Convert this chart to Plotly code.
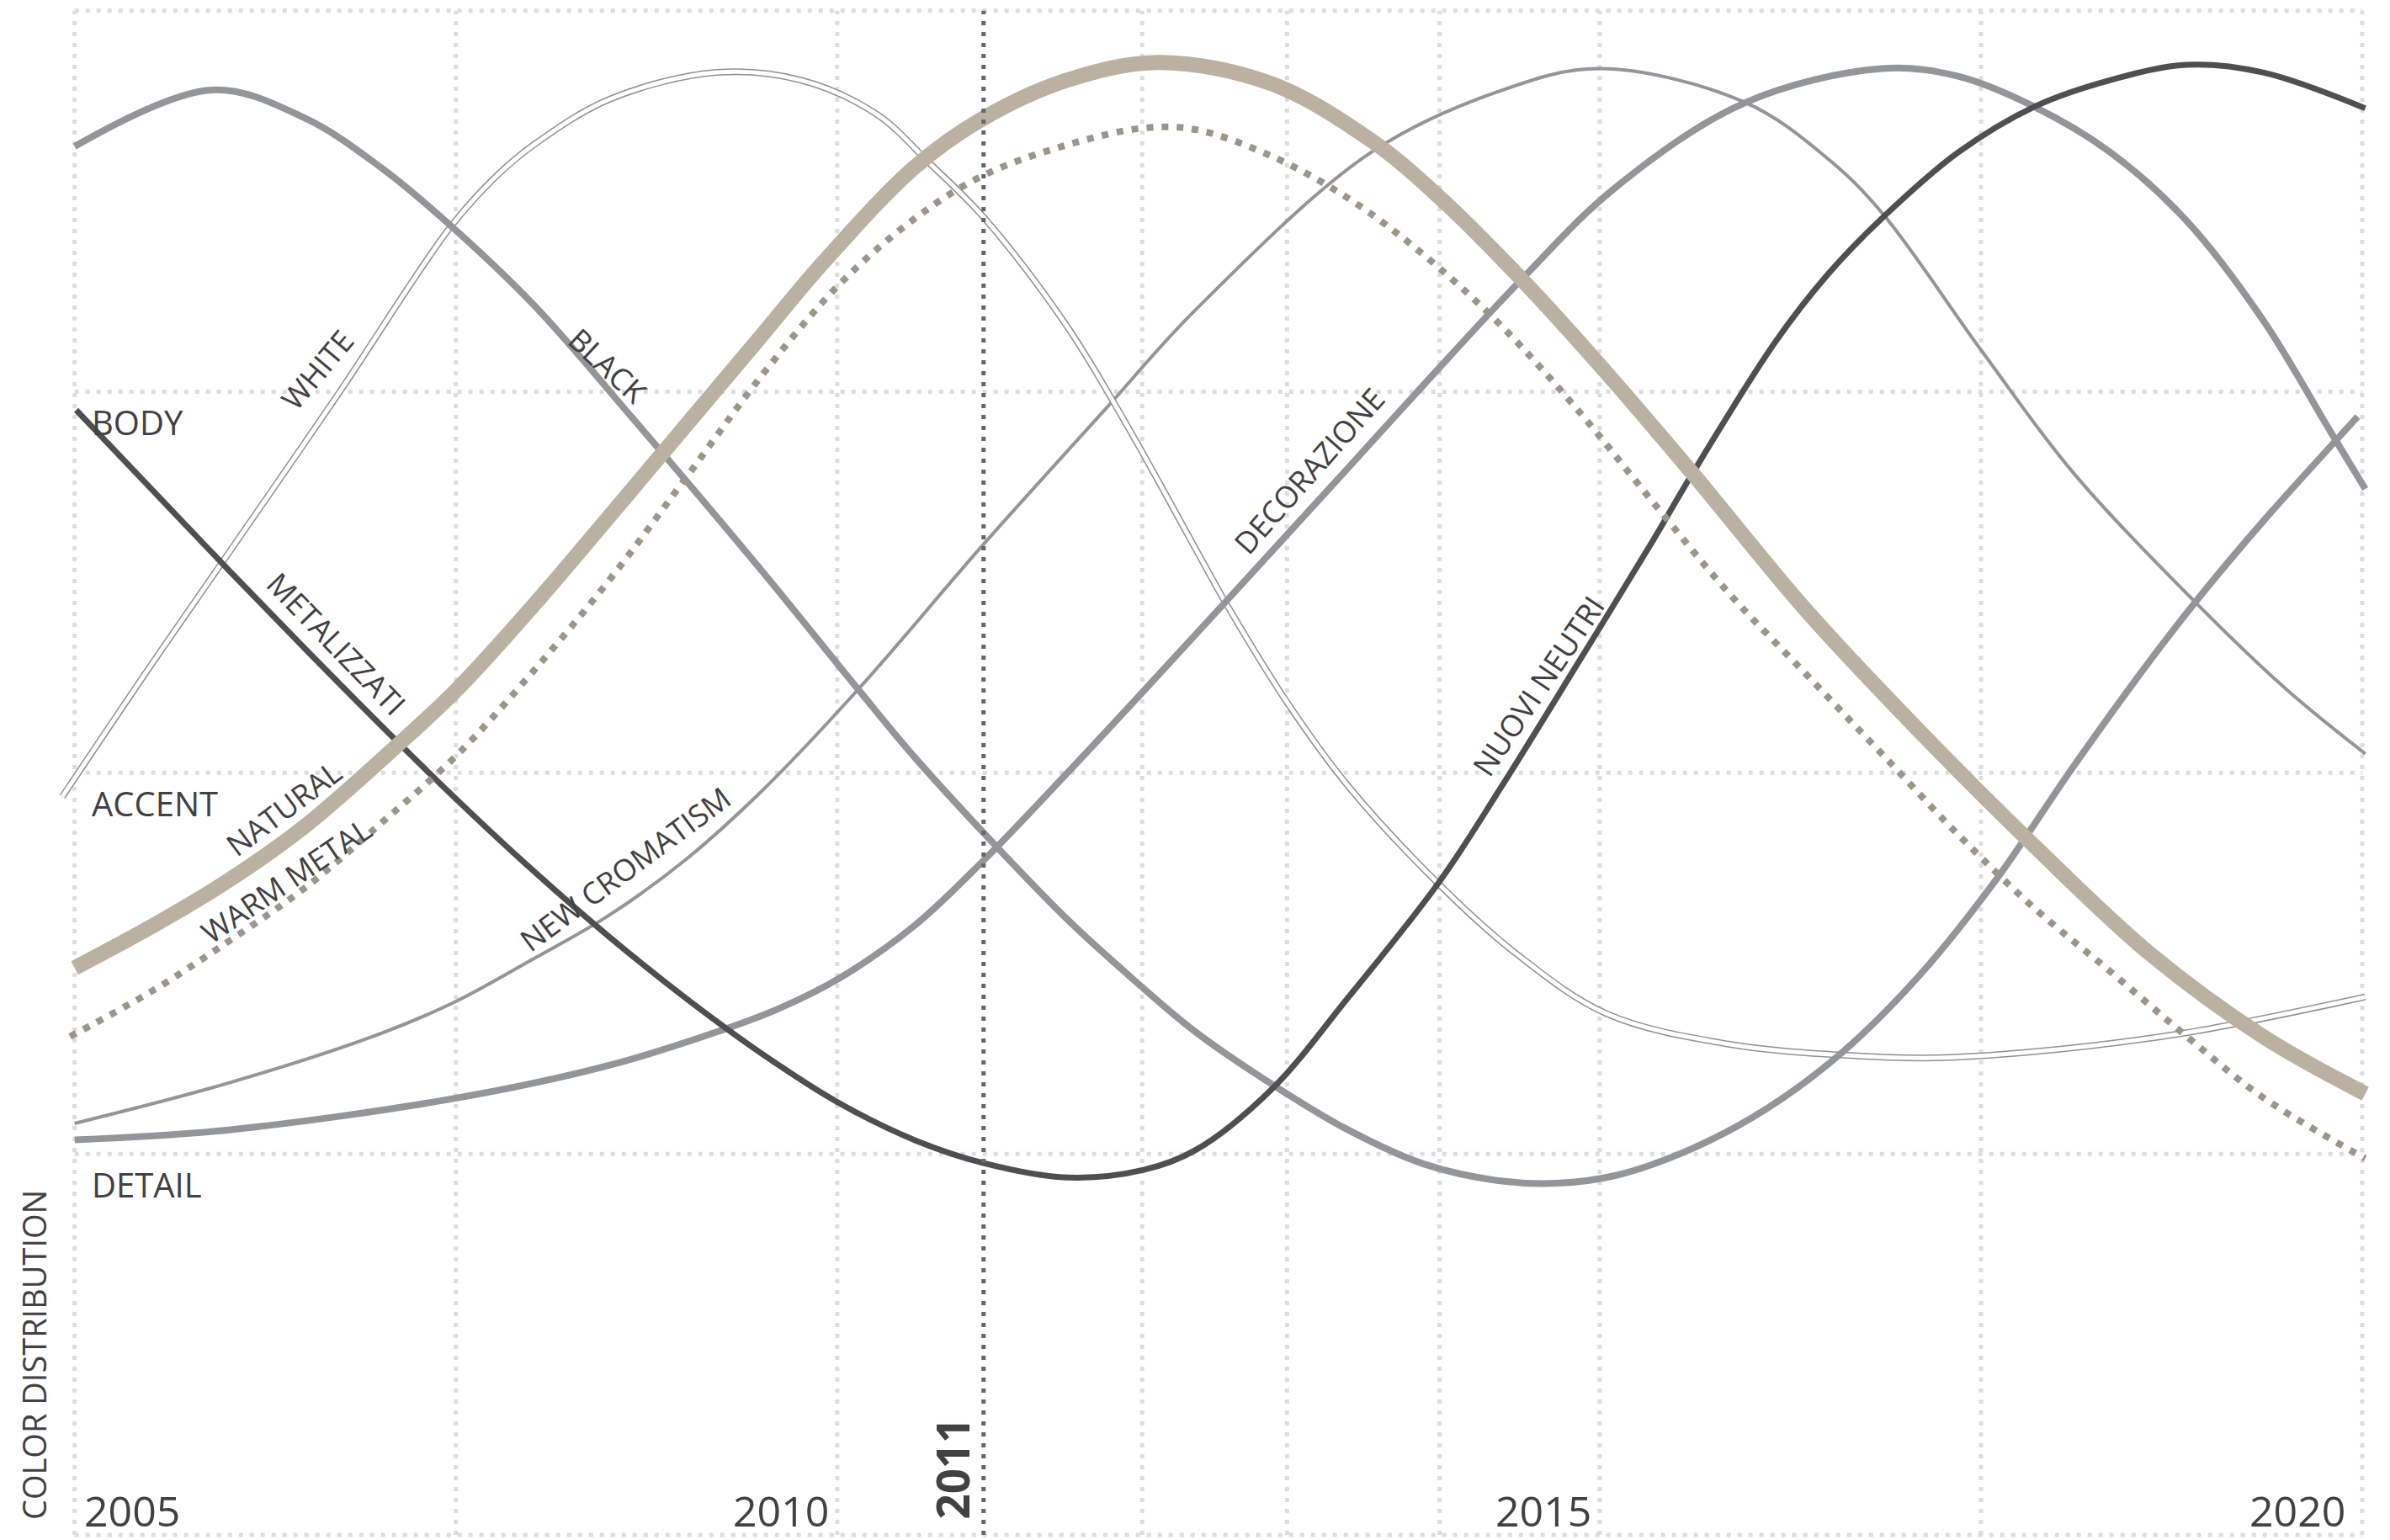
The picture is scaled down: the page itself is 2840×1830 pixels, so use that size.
import plotly.graph_objects as go

# ---------------- data ----------------
YEAR_LABELS = ["2005", "2010", "2015", "2020"]
GRID_YEARS = [2005, 2007.5, 2010, 2012, 2012.95, 2013.95, 2015, 2017.5, 2020]
LEVELS = [0, 1, 2, 3, 4]
LEVEL_NAMES = ["DETAIL", "ACCENT", "BODY"]
LEVEL_VALUES = [1, 2, 3]
HIGHLIGHT_YEAR = 2010.96

black_x = [2005, 2005.9, 2006.51, 2007.01, 2007.46, 2008.01, 2008.66, 2009.51, 2010.14, 2010.51,
           2011.06, 2011.51, 2011.95, 2012.35, 2012.85, 2013.35, 2013.85, 2014.35, 2014.72, 2015.1,
           2015.6, 2016.1, 2016.6, 2017.1, 2017.6, 2018.1, 2018.6, 2018.95, 2019.35, 2019.8, 2019.97]
black_y = [3.644, 3.792, 3.718, 3.588, 3.438, 3.228, 2.93, 2.528, 2.218, 2.04,
           1.80, 1.615, 1.455, 1.32, 1.183, 1.063, 0.973, 0.929, 0.923, 0.943,
           1.013, 1.12, 1.27, 1.47, 1.72, 2.013, 2.29, 2.47, 2.66, 2.86, 2.935]

decor_x = [2005, 2006.01, 2007.51, 2008.51, 2009.21, 2009.61, 2010.01, 2010.51, 2010.96, 2011.51,
           2012.01, 2012.55, 2013.35, 2013.85, 2014.5, 2015.1, 2015.95, 2016.85, 2017.35, 2017.85,
           2018.35, 2018.85, 2019.35, 2019.8, 2020.02]
decor_y = [1.037, 1.063, 1.147, 1.233, 1.32, 1.38, 1.46, 1.6, 1.77, 2.0,
           2.215, 2.45, 2.8, 3.02, 3.30, 3.535, 3.758, 3.848, 3.828, 3.748,
           3.628, 3.448, 3.188, 2.89, 2.745]

dark_x = [2005.01, 2005.51, 2006.01, 2006.51, 2007.01, 2007.51, 2008.01, 2008.51, 2009.01, 2009.51,
          2010.01, 2010.51, 2010.96, 2011.51, 2012.01, 2012.35, 2012.85, 2013.35, 2013.95, 2014.35,
          2014.85, 2015.35, 2015.6, 2016.15, 2016.5, 2016.85, 2017.35, 2017.85, 2018.35, 2018.85,
          2019.35, 2020.02]
dark_y = [2.952, 2.742, 2.532, 2.326, 2.124, 1.928, 1.742, 1.568, 1.408, 1.262,
          1.134, 1.036, 0.976, 0.938, 0.958, 1.01, 1.17, 1.41, 1.715, 1.96,
          2.283, 2.61, 2.78, 3.13, 3.31, 3.455, 3.628, 3.748, 3.818, 3.858,
          3.838, 3.744]

white_x = [2004.92, 2005.51, 2005.96, 2006.735, 2007.46, 2007.75, 2008.01, 2008.51, 2009.21, 2009.76,
           2010.26, 2010.61, 2010.96, 2011.51, 2011.91, 2012.35, 2012.545, 2012.945, 2013.345, 2013.945,
           2014.445, 2015.045, 2015.845, 2016.645, 2017.195, 2017.845, 2018.845, 2020.02]
white_y = [1.938, 2.288, 2.548, 2.998, 3.43, 3.56, 3.648, 3.768, 3.838, 3.818,
           3.728, 3.598, 3.458, 3.17, 2.905, 2.588, 2.448, 2.188, 1.968, 1.708,
           1.528, 1.368, 1.288, 1.258, 1.252, 1.268, 1.318, 1.412]

newcrom_x = [2005, 2006, 2007, 2007.5, 2008, 2008.5, 2009, 2009.5, 2010.14, 2010.96,
             2011.76, 2012.35, 2013.5, 2014.35, 2015.0, 2015.95, 2016.5, 2016.85, 2017.5, 2018.1,
             2018.9, 2019.5, 2020.02]
newcrom_y = [1.08, 1.185, 1.315, 1.40, 1.51, 1.625, 1.77, 1.95, 2.22, 2.6,
             2.955, 3.215, 3.628, 3.79, 3.848, 3.76, 3.61, 3.47, 3.11, 2.79,
             2.45, 2.22, 2.05]

natural_x = [2005, 2005.51, 2006.01, 2006.51, 2007.11, 2007.51, 2008.01, 2008.51, 2008.91, 2009.31,
             2009.51, 2009.91, 2010.51, 2010.96, 2011.51, 2012.11, 2012.85, 2013.5, 2013.95, 2014.5,
             2015.0, 2015.6, 2016.35, 2017.1, 2017.85, 2018.6, 2019.35, 2020.02]
natural_y = [1.488, 1.598, 1.718, 1.86, 2.07, 2.22, 2.44, 2.675, 2.865, 3.055,
             3.15, 3.34, 3.59, 3.718, 3.818, 3.864, 3.808, 3.66, 3.51, 3.29,
             3.07, 2.79, 2.428, 2.108, 1.808, 1.528, 1.308, 1.158]

warm_x = [2004.97, 2005.51, 2006.01, 2006.51, 2007.01, 2007.51, 2008.01, 2008.51, 2009.01, 2009.51,
          2010.01, 2010.51, 2010.96, 2011.51, 2012.01, 2012.35, 2012.85, 2013.35, 2013.85, 2014.35,
          2014.85, 2015.35, 2015.85, 2016.35, 2016.85, 2017.35, 2017.85, 2018.35, 2018.85, 2019.35,
          2020.02]
warm_y = [1.308, 1.428, 1.558, 1.698, 1.868, 2.048, 2.268, 2.508, 2.775, 3.045,
          3.28, 3.455, 3.568, 3.648, 3.692, 3.688, 3.618, 3.508, 3.358, 3.175,
          2.955, 2.71, 2.47, 2.26, 2.05, 1.838, 1.645, 1.478, 1.308, 1.148,
          0.988]

# curve labels: text, anchor year, anchor level, angle
curve_labels = [
    ("WHITE", 2006.59, 3.058, -50),
    ("BLACK", 2008.495, 3.068, 43),
    ("METALIZZATI", 2006.72, 2.338, 46),
    ("NATURAL", 2006.37, 1.908, -37),
    ("WARM METAL", 2006.385, 1.718, -34),
    ("NEW CROMATISM", 2008.61, 1.748, -36.5),
    ("DECORAZIONE", 2013.095, 2.792, -48.5),
    ("NUOVI NEUTRI", 2014.595, 2.228, -56),
]

# ---------------- styling ----------------
TEXT = "#414042"
GRID = "#dcdde0"
GRAY = "#939598"
DARK = "#4f4f51"
BEIGE = "#bab1a2"
WARM = "#9c968a"
FONT = "Open Sans"

fig = go.Figure()

def add_line(x, y, color, width, dash=None):
    fig.add_trace(go.Scatter(
        x=x, y=y, mode="lines",
        line=dict(color=color, width=width, shape="spline", smoothing=1.0,
                  dash=dash if dash else "solid"),
        hoverinfo="skip", showlegend=False))

add_line(newcrom_x, newcrom_y, GRAY, 4)
add_line(white_x, white_y, "#8f9093", 8)
add_line(white_x, white_y, "white", 5)
add_line(decor_x, decor_y, GRAY, 8)
add_line(black_x, black_y, GRAY, 8)
add_line(dark_x, dark_y, DARK, 7)
add_line(natural_x, natural_y, BEIGE, 18)
add_line(warm_x, warm_y, WARM, 8, dash="8px,10px")

shapes = []
for gx in GRID_YEARS:
    shapes.append(dict(type="line", xref="x", yref="y", x0=gx, x1=gx, y0=LEVELS[0], y1=LEVELS[-1],
                       line=dict(color=GRID, width=5, dash="5px,8px"), layer="below"))
for ly in LEVELS:
    shapes.append(dict(type="line", xref="x", yref="y", x0=GRID_YEARS[0], x1=GRID_YEARS[-1], y0=ly, y1=ly,
                       line=dict(color=GRID, width=5, dash="5px,8px"), layer="below"))
shapes.append(dict(type="line", xref="x", yref="y", x0=HIGHLIGHT_YEAR, x1=HIGHLIGHT_YEAR,
                   y0=LEVELS[0], y1=LEVELS[-1],
                   line=dict(color="#66676a", width=5, dash="5px,8px"), layer="above"))

ann = []
for name, lv in zip(LEVEL_NAMES, LEVEL_VALUES):
    ann.append(dict(text=name, x=2005.1, y=lv - 0.08, xref="x", yref="y", showarrow=False,
                    xanchor="left", yanchor="middle", font=dict(family=FONT, size=40, color=TEXT)))

year_pos = [(2005.05, "left"), (2009.955, "right"), (2014.956, "right"), (2019.9, "right")]
for lab, (xp, anc) in zip(YEAR_LABELS, year_pos):
    ann.append(dict(text=lab, x=xp, y=0.064, xref="x", yref="y", showarrow=False,
                    xanchor=anc, yanchor="middle", font=dict(family=FONT, size=50, color=TEXT)))

ann.append(dict(text="<b>2011</b>", x=2010.756, y=0.175, xref="x", yref="y", showarrow=False,
                textangle=-90, xanchor="center", yanchor="middle",
                font=dict(family=FONT, size=53, color=TEXT)))

ann.append(dict(text="COLOR DISTRIBUTION", x=-0.0072, y=0.1198, xref="paper", yref="paper",
                showarrow=False, textangle=-90, xanchor="center", yanchor="middle",
                font=dict(family=FONT, size=38, color=TEXT)))

for txt, xp, yp, ang in curve_labels:
    ann.append(dict(text=txt, x=xp, y=yp, xref="x", yref="y", showarrow=False, textangle=ang,
                    xanchor="center", yanchor="middle",
                    font=dict(family=FONT, size=36, color=TEXT)))

# page body has an 8px default margin; the figure is sized so the page is 2840x1830
fig.update_layout(
    width=2832, height=1822, autosize=False,
    margin=dict(l=52, r=6, t=0, b=2, pad=0),
    paper_bgcolor="white", plot_bgcolor="white",
    xaxis=dict(range=[2004.8416, 2020.149], showgrid=False, zeroline=False,
               showticklabels=False, showline=False, fixedrange=True),
    yaxis=dict(range=[-0.0088, 4.0104], showgrid=False, zeroline=False,
               showticklabels=False, showline=False, fixedrange=True),
    shapes=shapes, annotations=ann,
)

fig.write_html("out.html")
